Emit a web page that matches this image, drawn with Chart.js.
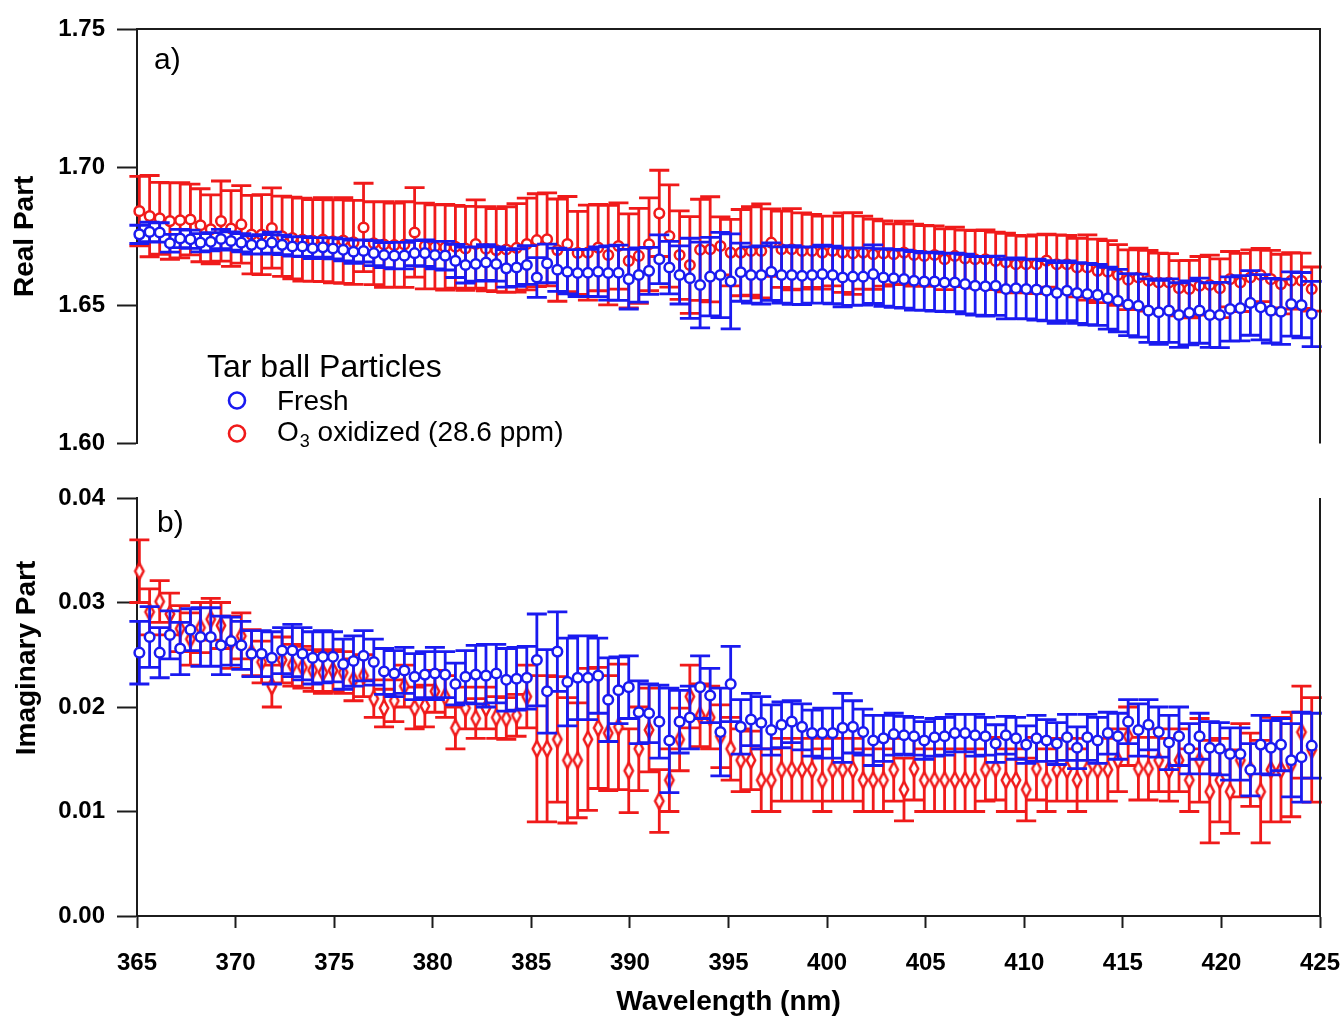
<!DOCTYPE html>
<html>
<head>
<meta charset="utf-8">
<title>Tar ball particles - refractive index</title>
<script src="https://cdn.jsdelivr.net/npm/chart.js@4"></script>
<style>
  html, body { margin: 0; padding: 0; background: #fff; }
  #wrap { position: relative; width: 1343px; height: 1019px; }
  canvas { position: absolute; left: 0; }
  #realChart { top: 0; }
  #imagChart { top: 470px; }
</style>
</head>
<body>
<div id="wrap">
  <canvas id="realChart" width="1343" height="470"></canvas>
  <canvas id="imagChart" width="1343" height="549"></canvas>
</div>
<script>
// wavelength grid (nm)
const wavelength = [
  365.12, 365.64, 366.15, 366.67, 367.19, 367.71, 368.22, 368.74, 369.26, 369.77,
  370.29, 370.81, 371.32, 371.84, 372.36, 372.88, 373.39, 373.91, 374.43, 374.94,
  375.46, 375.98, 376.49, 377.01, 377.53, 378.05, 378.56, 379.08, 379.60, 380.11,
  380.63, 381.15, 381.66, 382.18, 382.70, 383.22, 383.73, 384.25, 384.77, 385.28,
  385.80, 386.32, 386.83, 387.35, 387.87, 388.39, 388.90, 389.42, 389.94, 390.45,
  390.97, 391.49, 392.00, 392.52, 393.04, 393.56, 394.07, 394.59, 395.11, 395.62,
  396.14, 396.66, 397.17, 397.69, 398.21, 398.73, 399.24, 399.76, 400.28, 400.79,
  401.31, 401.83, 402.34, 402.86, 403.38, 403.90, 404.41, 404.93, 405.45, 405.96,
  406.48, 407.00, 407.51, 408.03, 408.55, 409.07, 409.58, 410.10, 410.62, 411.13,
  411.65, 412.17, 412.68, 413.20, 413.72, 414.24, 414.75, 415.27, 415.79, 416.30,
  416.82, 417.34, 417.85, 418.37, 418.89, 419.41, 419.92, 420.44, 420.96, 421.47,
  421.99, 422.51, 423.02, 423.54, 424.06, 424.58
];

// a) real part
const freshReal = [
  1.6757, 1.6766, 1.6764, 1.6725, 1.6742, 1.6739, 1.6727, 1.6730, 1.6740, 1.6733,
  1.6727, 1.6719, 1.6721, 1.6727, 1.6719, 1.6713, 1.6713, 1.6707, 1.6710, 1.6706,
  1.6701, 1.6694, 1.6697, 1.6689, 1.6682, 1.6680, 1.6680, 1.6689, 1.6689, 1.6682,
  1.6680, 1.6661, 1.6646, 1.6650, 1.6655, 1.6650, 1.6634, 1.6637, 1.6646, 1.6601,
  1.6652, 1.6629, 1.6622, 1.6617, 1.6618, 1.6622, 1.6617, 1.6618, 1.6595, 1.6610,
  1.6625, 1.6667, 1.6637, 1.6610, 1.6598, 1.6574, 1.6604, 1.6610, 1.6587, 1.6620,
  1.6610, 1.6610, 1.6622, 1.6610, 1.6610, 1.6607, 1.6610, 1.6613, 1.6610, 1.6601,
  1.6604, 1.6604, 1.6613, 1.6601, 1.6598, 1.6595, 1.6589, 1.6586, 1.6586, 1.6583,
  1.6583, 1.6577, 1.6571, 1.6569, 1.6571, 1.6559, 1.6562, 1.6559, 1.6557, 1.6553,
  1.6545, 1.6553, 1.6545, 1.6541, 1.6538, 1.6526, 1.6517, 1.6503, 1.6499, 1.6481,
  1.6475, 1.6481, 1.6465, 1.6473, 1.6481, 1.6465, 1.6465, 1.6487, 1.6490, 1.6509,
  1.6493, 1.6481, 1.6477, 1.6505, 1.6501, 1.6469
];
const freshRealErr = [
  0.0033, 0.0035, 0.0035, 0.0032, 0.0033, 0.0033, 0.0033, 0.0033, 0.0035, 0.0033,
  0.0033, 0.0033, 0.0035, 0.0038, 0.0035, 0.0035, 0.0036, 0.0038, 0.0035, 0.0038,
  0.0040, 0.0042, 0.0040, 0.0045, 0.0045, 0.0048, 0.0048, 0.0045, 0.0048, 0.0050,
  0.0052, 0.0060, 0.0065, 0.0062, 0.0065, 0.0062, 0.0068, 0.0068, 0.0070, 0.0072,
  0.0070, 0.0078, 0.0080, 0.0085, 0.0085, 0.0090, 0.0098, 0.0100, 0.0108, 0.0098,
  0.0085, 0.0088, 0.0095, 0.0105, 0.0145, 0.0155, 0.0142, 0.0154, 0.0172, 0.0105,
  0.0102, 0.0105, 0.0104, 0.0102, 0.0106, 0.0104, 0.0102, 0.0105, 0.0104, 0.0106,
  0.0104, 0.0103, 0.0106, 0.0104, 0.0105, 0.0105, 0.0106, 0.0104, 0.0107, 0.0105,
  0.0106, 0.0108, 0.0106, 0.0108, 0.0107, 0.0108, 0.0110, 0.0108, 0.0110, 0.0109,
  0.0110, 0.0108, 0.0110, 0.0111, 0.0110, 0.0112, 0.0113, 0.0112, 0.0114, 0.0115,
  0.0116, 0.0115, 0.0117, 0.0116, 0.0118, 0.0117, 0.0118, 0.0116, 0.0118, 0.0117,
  0.0118, 0.0117, 0.0118, 0.0116, 0.0118, 0.0118
];
const ozoneReal = [
  1.6841, 1.6823, 1.6815, 1.6805, 1.6808, 1.6811, 1.6790, 1.6775, 1.6805, 1.6778,
  1.6793, 1.6756, 1.6756, 1.6780, 1.6750, 1.6744, 1.6738, 1.6735, 1.6738, 1.6732,
  1.6735, 1.6728, 1.6782, 1.6725, 1.6720, 1.6718, 1.6720, 1.6764, 1.6715, 1.6712,
  1.6710, 1.6712, 1.6706, 1.6722, 1.6705, 1.6700, 1.6702, 1.6708, 1.6722, 1.6736,
  1.6739, 1.6700, 1.6722, 1.6690, 1.6691, 1.6709, 1.6682, 1.6715, 1.6661, 1.6679,
  1.6721, 1.6833, 1.6751, 1.6682, 1.6646, 1.6701, 1.6703, 1.6715, 1.6691, 1.6691,
  1.6697, 1.6697, 1.6727, 1.6703, 1.6703, 1.6697, 1.6697, 1.6691, 1.6697, 1.6691,
  1.6688, 1.6691, 1.6685, 1.6688, 1.6685, 1.6691, 1.6682, 1.6679, 1.6682, 1.6667,
  1.6679, 1.6670, 1.6667, 1.6667, 1.6661, 1.6655, 1.6649, 1.6649, 1.6649, 1.6662,
  1.6649, 1.6649, 1.6637, 1.6637, 1.6625, 1.6622, 1.6610, 1.6593, 1.6601, 1.6589,
  1.6583, 1.6583, 1.6562, 1.6559, 1.6571, 1.6574, 1.6562, 1.6595, 1.6583, 1.6601,
  1.6610, 1.6595, 1.6577, 1.6589, 1.6589, 1.6559
];
const ozoneRealErr = [
  0.0126, 0.0147, 0.0130, 0.0138, 0.0136, 0.0128, 0.0132, 0.0125, 0.0145, 0.0137,
  0.0140, 0.0142, 0.0145, 0.0145, 0.0145, 0.0148, 0.0150, 0.0148, 0.0152, 0.0150,
  0.0155, 0.0152, 0.0160, 0.0150, 0.0155, 0.0152, 0.0155, 0.0162, 0.0155, 0.0152,
  0.0155, 0.0150, 0.0152, 0.0160, 0.0152, 0.0150, 0.0155, 0.0160, 0.0166, 0.0168,
  0.0168, 0.0185, 0.0172, 0.0150, 0.0172, 0.0156, 0.0180, 0.0156, 0.0170, 0.0172,
  0.0168, 0.0156, 0.0185, 0.0160, 0.0175, 0.0183, 0.0190, 0.0105, 0.0120, 0.0156,
  0.0160, 0.0170, 0.0122, 0.0138, 0.0147, 0.0138, 0.0132, 0.0132, 0.0126, 0.0144,
  0.0148, 0.0132, 0.0127, 0.0118, 0.0110, 0.0114, 0.0112, 0.0110, 0.0106, 0.0110,
  0.0104, 0.0102, 0.0104, 0.0106, 0.0104, 0.0106, 0.0104, 0.0102, 0.0106, 0.0096,
  0.0106, 0.0104, 0.0106, 0.0118, 0.0115, 0.0112, 0.0110, 0.0108, 0.0106, 0.0110,
  0.0106, 0.0104, 0.0100, 0.0104, 0.0106, 0.0108, 0.0106, 0.0100, 0.0105, 0.0100,
  0.0096, 0.0104, 0.0108, 0.0102, 0.0100, 0.0080
];

// b) imaginary part
const freshImag = [
  0.0252, 0.0267, 0.0252, 0.0269, 0.0256, 0.0274, 0.0267, 0.0267, 0.0259, 0.0263,
  0.0259, 0.0251, 0.0251, 0.0247, 0.0254, 0.0254, 0.0251, 0.0247, 0.0248, 0.0248,
  0.0241, 0.0244, 0.0249, 0.0243, 0.0234, 0.0232, 0.0235, 0.0229, 0.0231, 0.0232,
  0.0231, 0.0222, 0.0229, 0.0231, 0.0230, 0.0232, 0.0226, 0.0227, 0.0228, 0.0245,
  0.0215, 0.0253, 0.0224, 0.0228, 0.0228, 0.0230, 0.0207, 0.0216, 0.0219, 0.0195,
  0.0194, 0.0186, 0.0168, 0.0186, 0.0190, 0.0219, 0.0211, 0.0176, 0.0222, 0.0181,
  0.0188, 0.0185, 0.0178, 0.0183, 0.0186, 0.0181, 0.0175, 0.0175, 0.0175, 0.0180,
  0.0181, 0.0176, 0.0168, 0.0170, 0.0174, 0.0173, 0.0172, 0.0168, 0.0171, 0.0172,
  0.0175, 0.0175, 0.0173, 0.0172, 0.0165, 0.0173, 0.0170, 0.0164, 0.0170, 0.0168,
  0.0165, 0.0171, 0.0161, 0.0171, 0.0168, 0.0175, 0.0172, 0.0186, 0.0178, 0.0183,
  0.0176, 0.0166, 0.0172, 0.0160, 0.0172, 0.0161, 0.0160, 0.0155, 0.0155, 0.0140,
  0.0164, 0.0161, 0.0164, 0.0149, 0.0152, 0.0163
];
const freshImagErr = [
  0.0030, 0.0029, 0.0024, 0.0023, 0.0025, 0.0020, 0.0028, 0.0028, 0.0028, 0.0023,
  0.0023, 0.0022, 0.0022, 0.0025, 0.0022, 0.0025, 0.0025, 0.0025, 0.0025, 0.0024,
  0.0024, 0.0024, 0.0024, 0.0022, 0.0022, 0.0022, 0.0022, 0.0022, 0.0022, 0.0025,
  0.0022, 0.0020, 0.0025, 0.0028, 0.0030, 0.0028, 0.0030, 0.0030, 0.0030, 0.0044,
  0.0040, 0.0038, 0.0042, 0.0040, 0.0040, 0.0036, 0.0040, 0.0032, 0.0030, 0.0030,
  0.0028, 0.0035, 0.0050, 0.0030, 0.0030, 0.0030, 0.0026, 0.0042, 0.0036, 0.0026,
  0.0025, 0.0025, 0.0024, 0.0022, 0.0020, 0.0022, 0.0022, 0.0024, 0.0024, 0.0033,
  0.0025, 0.0022, 0.0024, 0.0022, 0.0020, 0.0018, 0.0018, 0.0018, 0.0018, 0.0018,
  0.0018, 0.0018, 0.0020, 0.0018, 0.0018, 0.0018, 0.0020, 0.0018, 0.0022, 0.0020,
  0.0020, 0.0022, 0.0020, 0.0022, 0.0022, 0.0020, 0.0022, 0.0021, 0.0025, 0.0024,
  0.0024, 0.0026, 0.0028, 0.0024, 0.0022, 0.0025, 0.0025, 0.0025, 0.0025, 0.0025,
  0.0028, 0.0026, 0.0025, 0.0035, 0.0043, 0.0031
];
const ozoneImag = [
  0.0330, 0.0291, 0.0301, 0.0289, 0.0275, 0.0265, 0.0276, 0.0284, 0.0278, 0.0262,
  0.0268, 0.0252, 0.0243, 0.0220, 0.0245, 0.0240, 0.0238, 0.0235, 0.0233, 0.0235,
  0.0233, 0.0226, 0.0230, 0.0208, 0.0199, 0.0206, 0.0220, 0.0199, 0.0201, 0.0215,
  0.0210, 0.0180, 0.0199, 0.0189, 0.0199, 0.0190, 0.0189, 0.0192, 0.0210, 0.0160,
  0.0160, 0.0169, 0.0149, 0.0149, 0.0169, 0.0180, 0.0175, 0.0181, 0.0139, 0.0160,
  0.0178, 0.0110, 0.0130, 0.0169, 0.0210, 0.0192, 0.0190, 0.0172, 0.0160, 0.0149,
  0.0149, 0.0130, 0.0130, 0.0140, 0.0140, 0.0140, 0.0140, 0.0130, 0.0140, 0.0140,
  0.0140, 0.0130, 0.0130, 0.0130, 0.0140, 0.0121, 0.0141, 0.0130, 0.0130, 0.0130,
  0.0130, 0.0130, 0.0130, 0.0140, 0.0141, 0.0130, 0.0130, 0.0121, 0.0141, 0.0130,
  0.0140, 0.0140, 0.0130, 0.0140, 0.0140, 0.0140, 0.0149, 0.0172, 0.0141, 0.0141,
  0.0149, 0.0140, 0.0149, 0.0130, 0.0149, 0.0119, 0.0130, 0.0119, 0.0149, 0.0140,
  0.0119, 0.0140, 0.0140, 0.0145, 0.0176, 0.0159
];
const ozoneImagErr = [
  0.0030, 0.0022, 0.0020, 0.0020, 0.0022, 0.0025, 0.0024, 0.0020, 0.0022, 0.0025,
  0.0022, 0.0022, 0.0020, 0.0020, 0.0022, 0.0020, 0.0020, 0.0020, 0.0020, 0.0020,
  0.0020, 0.0020, 0.0020, 0.0018, 0.0018, 0.0020, 0.0020, 0.0020, 0.0020, 0.0020,
  0.0020, 0.0020, 0.0020, 0.0019, 0.0020, 0.0020, 0.0020, 0.0020, 0.0030, 0.0070,
  0.0070, 0.0060, 0.0060, 0.0055, 0.0068, 0.0058, 0.0055, 0.0060, 0.0040, 0.0040,
  0.0040, 0.0030, 0.0030, 0.0030, 0.0030, 0.0030, 0.0030, 0.0030, 0.0030, 0.0030,
  0.0028, 0.0030, 0.0030, 0.0030, 0.0030, 0.0030, 0.0030, 0.0030, 0.0030, 0.0030,
  0.0030, 0.0030, 0.0030, 0.0030, 0.0030, 0.0030, 0.0030, 0.0030, 0.0030, 0.0030,
  0.0030, 0.0030, 0.0030, 0.0030, 0.0030, 0.0030, 0.0030, 0.0030, 0.0030, 0.0030,
  0.0030, 0.0030, 0.0030, 0.0030, 0.0030, 0.0030, 0.0030, 0.0028, 0.0030, 0.0030,
  0.0030, 0.0030, 0.0030, 0.0030, 0.0040, 0.0049, 0.0040, 0.0040, 0.0035, 0.0035,
  0.0049, 0.0050, 0.0050, 0.0050, 0.0044, 0.0050
];

// tick values
const wavelengthTicks = [365, 370, 375, 380, 385, 390, 395, 400, 405, 410, 415, 420, 425];
const realTicks = [1.60, 1.65, 1.70, 1.75];
const imagTicks = [0.00, 0.01, 0.02, 0.03, 0.04];

const FONT = "'Liberation Sans', Arial, Helvetica, sans-serif";
const AXIS_COLOR = '#1c1c1c';
const BLUE = '#1a1af0';
const RED = '#f01a1a';

function points(values) {
  return values.map((v, i) => ({ x: wavelength[i], y: v }));
}

function setTicks(values) {
  return function(scale) {
    scale.ticks = values.map(v => ({ value: v }));
  };
}

// narrow diamond marker used for the oxidized series in panel b
function diamondMarker(color) {
  const c = document.createElement('canvas');
  c.width = 14;
  c.height = 22;
  const g = c.getContext('2d');
  g.beginPath();
  g.moveTo(7, 3);
  g.lineTo(11.2, 11);
  g.lineTo(7, 19);
  g.lineTo(2.8, 11);
  g.closePath();
  g.fillStyle = '#fff';
  g.fill();
  g.lineWidth = 2.5;
  g.strokeStyle = color;
  g.stroke();
  return c;
}

// vertical error bars with caps, drawn just before each dataset's markers
const errorBars = {
  id: 'errorBars',
  beforeDatasetDraw(chart, args) {
    const ds = chart.data.datasets[args.index];
    if (!ds.errors) return;
    const ctx = chart.ctx;
    const xs = chart.scales.x;
    const ys = chart.scales.y;
    const cap = 10;
    ctx.save();
    ctx.strokeStyle = ds.pointBorderColor;
    ctx.lineWidth = 2.8;
    ctx.beginPath();
    ds.data.forEach((p, i) => {
      const px = xs.getPixelForValue(p.x);
      const top = ys.getPixelForValue(p.y + ds.errors[i]);
      const bot = ys.getPixelForValue(p.y - ds.errors[i]);
      ctx.moveTo(px, top);
      ctx.lineTo(px, bot);
      ctx.moveTo(px - cap, top);
      ctx.lineTo(px + cap, top);
      ctx.moveTo(px - cap, bot);
      ctx.lineTo(px + cap, bot);
    });
    ctx.stroke();
    ctx.restore();
  }
};

// frame lines, panel letters, legend and the lower y title
const panelDecor = {
  id: 'panelDecor',
  afterDraw(chart, args, opts) {
    const ctx = chart.ctx;
    const a = chart.chartArea;
    ctx.save();
    ctx.strokeStyle = AXIS_COLOR;
    ctx.lineWidth = 2;
    ctx.beginPath();
    if (opts.topLine) {
      ctx.moveTo(a.left, a.top);
      ctx.lineTo(a.right + 1, a.top);
    }
    ctx.moveTo(a.right, a.top);
    ctx.lineTo(a.right, a.bottom);
    ctx.stroke();

    ctx.fillStyle = '#000';
    ctx.textAlign = 'left';
    ctx.textBaseline = 'alphabetic';
    ctx.font = '30px ' + FONT;
    ctx.fillText(opts.label, opts.labelX, opts.labelY);

    if (opts.yTitle) {
      ctx.save();
      ctx.translate(opts.yTitleX, opts.yTitleY);
      ctx.rotate(-Math.PI / 2);
      ctx.textAlign = 'center';
      ctx.textBaseline = 'middle';
      ctx.font = 'bold 28px ' + FONT;
      ctx.fillText(opts.yTitle, 0, 0);
      ctx.restore();
    }

    if (opts.legend) {
      ctx.font = '32px ' + FONT;
      ctx.fillText('Tar ball Particles', 207, 377);
      const rows = [
        { color: BLUE, cy: 400.5 },
        { color: RED, cy: 433.5 }
      ];
      rows.forEach(r => {
        ctx.beginPath();
        ctx.arc(237, r.cy, 8, 0, Math.PI * 2);
        ctx.fillStyle = '#fff';
        ctx.fill();
        ctx.lineWidth = 2.6;
        ctx.strokeStyle = r.color;
        ctx.stroke();
      });
      ctx.fillStyle = '#000';
      ctx.font = '28px ' + FONT;
      ctx.fillText(chart.data.datasets[0].label, 277, 410);
      let x = 277;
      ctx.fillText('O', x, 441);
      x += ctx.measureText('O').width + 1;
      ctx.font = '18px ' + FONT;
      ctx.fillText('3', x, 447);
      x += ctx.measureText('3').width;
      ctx.font = '28px ' + FONT;
      ctx.fillText(' oxidized (28.6 ppm)', x, 441);
    }
    ctx.restore();
  }
};

const tickFont = { family: FONT, size: 24, weight: 'bold' };
const titleFont = { family: FONT, size: 28, weight: 'bold' };

function yAxis(min, max, values, title) {
  return {
    type: 'linear',
    min: min,
    max: max,
    afterBuildTicks: setTicks(values),
    afterFit: scale => { scale.width = 137; },
    grid: { drawOnChartArea: false, drawTicks: true, tickLength: 20, tickWidth: 2, tickColor: AXIS_COLOR },
    border: { display: true, color: AXIS_COLOR, width: 2 },
    ticks: { font: tickFont, color: '#000', padding: 12, callback: v => v.toFixed(2) },
    title: { display: !!title, text: title || '', font: titleFont, color: '#000', padding: { top: 8, bottom: 0 } }
  };
}

function baseOptions() {
  return {
    responsive: false,
    animation: false,
    events: [],
    plugins: { legend: { display: false }, tooltip: { enabled: false } }
  };
}

function markerStyle(color) {
  return {
    pointStyle: 'circle',
    pointRadius: 4.8,
    pointBorderWidth: 2.5,
    pointBorderColor: color,
    pointBackgroundColor: '#fff',
    clip: false
  };
}

// top panel: real part
const realOptions = baseOptions();
realOptions.layout = { padding: { top: 29, right: 23, bottom: 25, left: 0 } };
realOptions.scales = {
  x: { type: 'linear', min: 365, max: 425, display: false },
  y: yAxis(1.60, 1.75, realTicks, 'Real Part')
};
realOptions.plugins.panelDecor = { topLine: true, label: 'a)', labelX: 154, labelY: 69, legend: true };

new Chart(document.getElementById('realChart'), {
  type: 'scatter',
  data: {
    datasets: [
      Object.assign({ label: 'Fresh', data: points(freshReal), errors: freshRealErr }, markerStyle(BLUE)),
      Object.assign({ label: 'O3 oxidized (28.6 ppm)', data: points(ozoneReal), errors: ozoneRealErr }, markerStyle(RED))
    ]
  },
  options: realOptions,
  plugins: [errorBars, panelDecor]
});

// bottom panel: imaginary part
const imagOptions = baseOptions();
imagOptions.layout = { padding: { top: 28, right: 23, bottom: 0, left: 0 } };
imagOptions.scales = {
  x: {
    type: 'linear',
    min: 365,
    max: 425,
    afterBuildTicks: setTicks(wavelengthTicks),
    afterFit: scale => {
      scale.height = 103;
      scale.paddingLeft = 0;
      scale.paddingRight = 0;
    },
    grid: { drawOnChartArea: false, drawTicks: true, tickLength: 12, tickWidth: 2, tickColor: AXIS_COLOR },
    border: { display: true, color: AXIS_COLOR, width: 2 },
    ticks: { font: tickFont, color: '#000', padding: 21, maxRotation: 0, autoSkip: false, callback: v => String(v) },
    title: { display: true, text: 'Wavelength (nm)', font: titleFont, color: '#000', padding: 0 }
  },
  y: yAxis(0, 0.04, imagTicks, null)
};
imagOptions.plugins.panelDecor = {
  topLine: false, label: 'b)', labelX: 157, labelY: 62,
  yTitle: 'Imaginary Part', yTitleX: 27, yTitleY: 188
};

const ozoneImagStyle = markerStyle(RED);
ozoneImagStyle.pointStyle = diamondMarker(RED);

new Chart(document.getElementById('imagChart'), {
  type: 'scatter',
  data: {
    datasets: [
      Object.assign({ label: 'Fresh', data: points(freshImag), errors: freshImagErr }, markerStyle(BLUE)),
      Object.assign({ label: 'O3 oxidized (28.6 ppm)', data: points(ozoneImag), errors: ozoneImagErr }, ozoneImagStyle)
    ]
  },
  options: imagOptions,
  plugins: [errorBars, panelDecor]
});
</script>
</body>
</html>
